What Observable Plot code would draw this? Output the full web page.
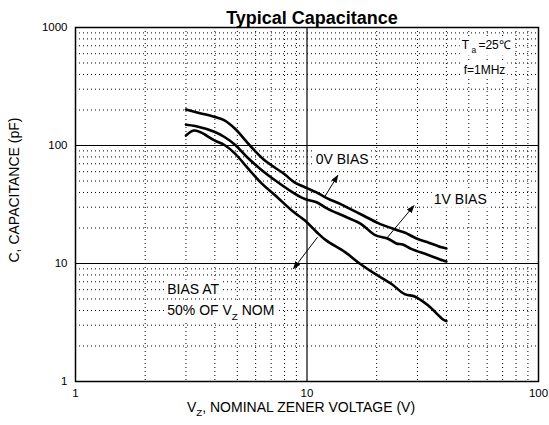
<!DOCTYPE html>
<html>
<head>
<meta charset="utf-8">
<script src="https://cdn.jsdelivr.net/npm/d3@7"></script>
<script src="https://cdn.jsdelivr.net/npm/@observablehq/plot@0.6"></script>
<style>
  html, body { margin: 0; padding: 0; background: #fff; }
  svg { display: block; }
  text { white-space: pre; }
</style>
</head>
<body>
<div id="chart"></div>
<script>
// ---- data ----
// 0V bias curve
const vz0 = [3.0, 3.45, 4.0, 4.4, 4.9, 5.67, 6.5, 8.0, 8.8, 10, 11, 12.3, 13.9, 14.6, 17.5, 20.3, 23.9, 26.4, 29.7, 33, 38.1, 40];
const c0  = [202, 188, 174, 163, 138, 100, 76, 57, 49, 43.5, 40, 35.5, 32, 30.5, 25.5, 22, 19.5, 18.3, 16.3, 15.2, 13.7, 13.4];
// 1V bias curve
const vz1 = [3.0, 3.29, 4.0, 4.4, 4.9, 5.5, 6.4, 7.3, 8.6, 9.6, 10.1, 11, 12.3, 14.6, 17.2, 19.6, 22.4, 24.3, 25.9, 28.2, 33.4, 38.7, 40];
const c1  = [150, 146, 130, 118, 101, 80, 61.5, 50.5, 40.5, 35.8, 34.5, 33, 29, 25, 21.5, 17.5, 16.2, 14.8, 14.5, 13.3, 11.8, 10.6, 10.4];
// bias at 50% of Vz nom curve
const vz2 = [3.0, 3.24, 3.45, 4.0, 4.4, 4.9, 5.5, 6.4, 7.3, 8.6, 9.8, 11, 12.1, 14.6, 17, 19.6, 23.2, 26.4, 29.2, 33.4, 38.7, 40];
const c2  = [121.5, 134, 130, 110, 101, 85, 65.5, 47.3, 37.7, 28.1, 23.1, 18.5, 15.7, 12.5, 9.9, 8.2, 6.7, 5.5, 5.25, 4.4, 3.35, 3.25];

// tick labels and grid values
const xTicks = [1, 10, 100];
const yTicks = [1, 10, 100, 1000];
const xMajor = [10];
const yMajor = [10, 100];
const xMinor = [2, 3, 4, 5, 6, 7, 8, 9, 20, 30, 40, 50, 60, 70, 80, 90];
const yMinor = [2, 3, 4, 5, 6, 7, 8, 9, 20, 30, 40, 50, 60, 70, 80, 90, 200, 300, 400, 500, 600, 700, 800, 900];

// annotations (data units)
const labelText = ["0V BIAS", "1V BIAS", "BIAS AT", "50% OF V_{Z} NOM"];
const labelX    = [10.9, 35.3, 2.49, 2.49];
const labelY    = [70, 32.1, 5.54, 3.63];
const condText  = ["T_{ a }=25℃", "f=1MHz"];
const condX     = [46.6, 47.5];
const condY     = [660, 405];
const arrowX1 = [11.9, 22.0, 11.1];
const arrowY1 = [36.5, 16.2, 16.7];
const arrowX2 = [13.6, 29.0, 8.73];
const arrowY2 = [56, 31, 9.0];

const title  = "Typical Capacitance";
const xLabel = "V_{Z}, NOMINAL ZENER VOLTAGE (V)";
const yLabel = "C, CAPACITANCE (pF)";

const font = "'Liberation Sans', Arial, Helvetica, sans-serif";
const dotted = {stroke: "#000", strokeWidth: 1, strokeDasharray: "1,3"};

const plot = Plot.plot({
  width: 549,
  height: 425,
  marginLeft: 75,
  marginRight: 11,
  marginTop: 27,
  marginBottom: 44,
  style: {fontFamily: font, fontSize: "11.5px", background: "#fff", color: "#000", overflow: "visible"},
  x: {type: "log", domain: [1, 100]},
  y: {type: "log", domain: [1, 1000]},
  marks: [
    Plot.ruleX(xMinor, dotted),
    Plot.ruleY(yMinor, dotted),
    Plot.ruleX(xMajor, {stroke: "#000", strokeWidth: 1.2}),
    Plot.ruleY(yMajor, {stroke: "#000", strokeWidth: 1.2}),
    Plot.frame({stroke: "#000", strokeWidth: 1.5}),
    Plot.axisX(xTicks, {tickSize: 0, tickPadding: 7, label: null, tickFormat: d => `${d}`}),
    Plot.axisY(yTicks, {tickSize: 0, tickPadding: 8, label: null, tickFormat: d => `${d}`}),
    Plot.text(labelText, {x: labelX, y: labelY, text: labelText, textAnchor: "start", lineAnchor: "bottom",
      fontSize: 14, fill: "#000", ariaDescription: "boxed"}),
    Plot.text(condText, {x: condX, y: condY, text: condText, textAnchor: "start", lineAnchor: "bottom",
      fontSize: 12, fill: "#000", ariaDescription: "boxed"}),
    Plot.line(vz0.map((v, i) => [v, c0[i]]), {stroke: "#000", strokeWidth: 2.6, curve: "catmull-rom"}),
    Plot.line(vz1.map((v, i) => [v, c1[i]]), {stroke: "#000", strokeWidth: 2.6, curve: "catmull-rom"}),
    Plot.line(vz2.map((v, i) => [v, c2[i]]), {stroke: "#000", strokeWidth: 2.6, curve: "catmull-rom"}),
    Plot.link(arrowX1, {x1: arrowX1, y1: arrowY1, x2: arrowX2, y2: arrowY2, stroke: "#000", strokeWidth: 1}),
    Plot.text([title], {frameAnchor: "top", lineAnchor: "bottom", dx: 5, dy: -4, fontSize: 18, fontWeight: "bold", fill: "#000"}),
    Plot.text([xLabel], {frameAnchor: "bottom", lineAnchor: "bottom", dx: -6, dy: 30, fontSize: 14, fill: "#000"}),
    Plot.text([yLabel], {frameAnchor: "bottom-left", rotate: -90, textAnchor: "start", lineAnchor: "bottom", dx: -57, dy: -119, fontSize: 14, fill: "#000"})
  ]
});

document.getElementById("chart").appendChild(plot);

const svg = d3.select(plot);

// subscripts: "_{...}"
svg.selectAll("text").each(function () {
  const s = this.textContent;
  if (!s.includes("_{")) return;
  const fs = parseFloat(getComputedStyle(this).fontSize) || 12;
  const parts = s.split(/_\{([^}]*)\}/);
  this.textContent = "";
  let shifted = 0;
  parts.forEach((p, i) => {
    if (!p) return;
    const t = document.createElementNS("http://www.w3.org/2000/svg", "tspan");
    t.textContent = p;
    if (i % 2) {
      const sh = fs * 0.32;
      t.setAttribute("font-size", fs * 0.7);
      t.setAttribute("dy", sh);
      shifted += sh;
    } else if (shifted) {
      t.setAttribute("dy", -shifted);
      shifted = 0;
    }
    this.appendChild(t);
  });
});

// white boxes behind annotation text
svg.selectAll('g[aria-description="boxed"] text').each(function () {
  const b = this.getBBox();
  const node = this;
  d3.select(this.parentNode).insert("rect", () => node)
    .attr("transform", this.getAttribute("transform"))
    .attr("x", b.x - 2).attr("y", b.y - 1)
    .attr("width", b.width + 4).attr("height", b.height + 2)
    .attr("fill", "#fff").attr("stroke", "none");
});

// filled arrowheads
const defs = svg.insert("defs", ":first-child");
defs.append("marker")
  .attr("id", "ahead").attr("viewBox", "0 0 8 6").attr("refX", 7.5).attr("refY", 3)
  .attr("markerWidth", 8).attr("markerHeight", 6).attr("markerUnits", "userSpaceOnUse").attr("orient", "auto")
  .append("path").attr("d", "M0,0L8,3L0,6Z").attr("fill", "#000");
svg.selectAll('g[aria-label="link"] path').attr("marker-end", "url(#ahead)");
</script>
</body>
</html>
